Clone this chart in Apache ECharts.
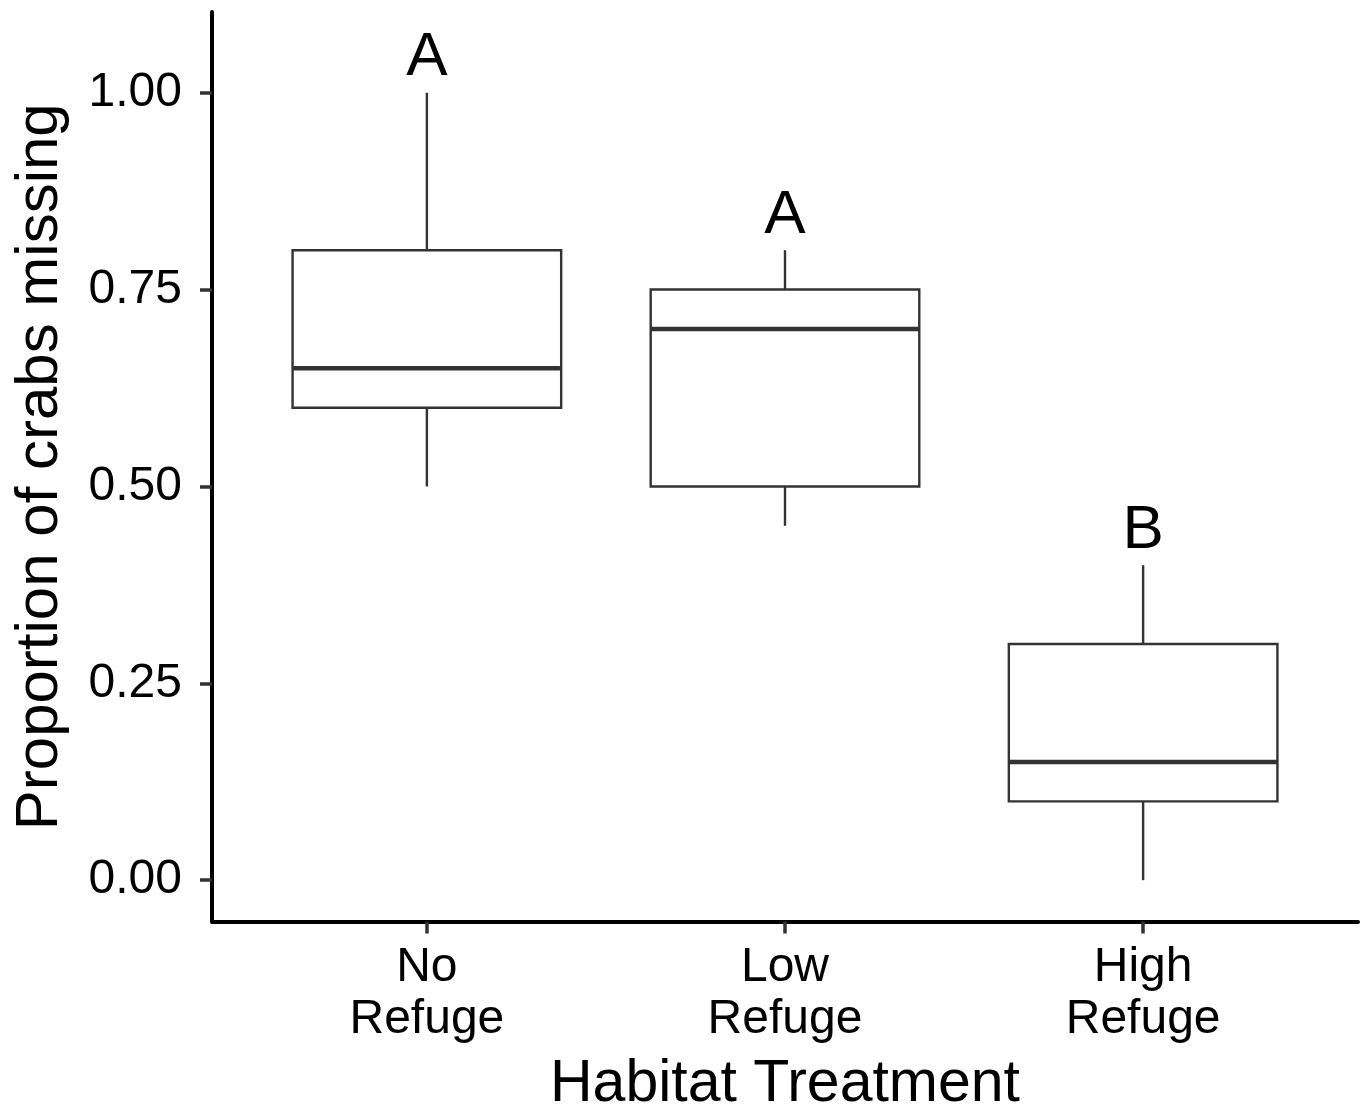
<!DOCTYPE html>
<html>
<head>
<meta charset="utf-8">
<script src="https://cdn.jsdelivr.net/npm/echarts@6/dist/echarts.min.js"></script>
<style>
  html, body { margin: 0; padding: 0; background: #fff; }
  #chart { width: 1361px; height: 1114px; }
</style>
</head>
<body>
<div id="chart"></div>
<script>
// box statistics
const categories = ['No\nRefuge', 'Low\nRefuge', 'High\nRefuge'];
const whiskerLow = [0.5, 0.45, 0.0];
const q1 = [0.6, 0.5, 0.1];
const median = [0.65, 0.7, 0.15];
const q3 = [0.8, 0.75, 0.3];
const whiskerHigh = [1.0, 0.8, 0.4];
const letters = ['A', 'A', 'B'];
const yTicks = [0, 0.25, 0.5, 0.75, 1];

const FONT = 'Liberation Sans, Arial, Helvetica, sans-serif';
const BOX_W = 0.75;   // box width in x units
const LETTER_GAP = 0.044;

const chart = echarts.init(document.getElementById('chart'));

const boxData = categories.map((c, i) => [i + 1, whiskerLow[i], q1[i], median[i], q3[i], whiskerHigh[i]]);
const letterData = categories.map((c, i) => [i + 1, whiskerHigh[i] + LETTER_GAP, letters[i]]);

function renderBox(params, api) {
  const x = api.value(0);
  const left = api.coord([x - BOX_W / 2, api.value(2)]);
  const right = api.coord([x + BOX_W / 2, api.value(4)]);
  const lo = api.coord([x, api.value(1)]);
  const b1 = api.coord([x, api.value(2)]);
  const med = api.coord([x, api.value(3)]);
  const b3 = api.coord([x, api.value(4)]);
  const hi = api.coord([x, api.value(5)]);
  const stroke = { stroke: '#333333', lineWidth: 2.4, fill: null };
  return {
    type: 'group',
    children: [
      { type: 'line', shape: { x1: hi[0], y1: hi[1], x2: b3[0], y2: b3[1] }, style: stroke },
      { type: 'line', shape: { x1: lo[0], y1: lo[1], x2: b1[0], y2: b1[1] }, style: stroke },
      {
        type: 'rect',
        shape: { x: left[0], y: right[1], width: right[0] - left[0], height: left[1] - right[1] },
        style: { stroke: '#333333', lineWidth: 2.4, fill: '#ffffff' }
      },
      {
        type: 'line',
        shape: { x1: left[0], y1: med[1], x2: right[0], y2: med[1] },
        style: { stroke: '#333333', lineWidth: 4.5 }
      }
    ]
  };
}

function renderLetter(params, api) {
  const p = api.coord([api.value(0), api.value(1)]);
  return {
    type: 'text',
    x: p[0],
    y: p[1],
    style: {
      text: letterData[params.dataIndex][2],
      font: '62px ' + FONT,
      fill: '#000',
      align: 'center',
      verticalAlign: 'middle'
    }
  };
}

chart.setOption({
  animation: false,
  backgroundColor: '#ffffff',
  grid: { left: 212, right: 3, top: 12, bottom: 192.5, outerBoundsMode: 'none' },
  xAxis: {
    type: 'value',
    min: 0.4,
    max: 3.6,
    name: 'Habitat Treatment',
    nameLocation: 'middle',
    nameGap: 134,
    nameTextStyle: { fontFamily: FONT, fontSize: 59, color: '#000' },
    splitLine: { show: false },
    axisLine: { show: true, onZero: false, lineStyle: { color: '#000', width: 4 } },
    axisTick: { show: true, length: 12, customValues: [1, 2, 3], lineStyle: { color: '#333', width: 3.5 } },
    axisLabel: {
      customValues: [1, 2, 3],
      margin: 20,
      fontFamily: FONT,
      fontSize: 48,
      lineHeight: 52,
      color: '#000',
      formatter: v => categories[Math.round(v) - 1] || ''
    }
  },
  yAxis: {
    type: 'value',
    min: -0.0525,
    max: 1.1025,
    name: 'Proportion of crabs missing',
    nameLocation: 'middle',
    nameGap: 142,
    nameTextStyle: { fontFamily: FONT, fontSize: 60, color: '#000' },
    splitLine: { show: false },
    axisLine: { show: true, onZero: false, lineStyle: { color: '#000', width: 4 } },
    axisTick: { show: true, length: 12, customValues: yTicks, lineStyle: { color: '#333', width: 3.5 } },
    axisLabel: {
      customValues: yTicks,
      margin: 30,
      fontFamily: FONT,
      fontSize: 48,
      color: '#000',
      formatter: v => v.toFixed(2)
    }
  },
  series: [
    {
      type: 'custom',
      renderItem: renderBox,
      data: boxData,
      encode: { x: 0, y: [1, 2, 3, 4, 5] },
      silent: true
    },
    {
      type: 'custom',
      renderItem: renderLetter,
      data: letterData.map(d => [d[0], d[1]]),
      encode: { x: 0, y: 1 },
      silent: true
    }
  ]
});
</script>
</body>
</html>
